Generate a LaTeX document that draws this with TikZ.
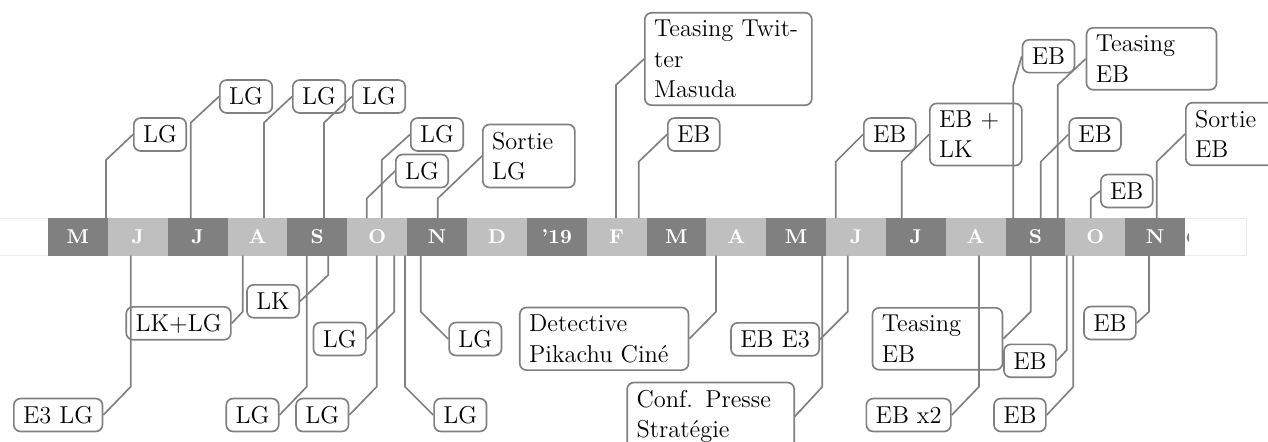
\documentclass[tikz,border=0pt]{standalone}

\definecolor{monthdark}{gray}{0.5}
\definecolor{monthlight}{gray}{0.75}
\definecolor{evgray}{gray}{0.5}
\newcommand\evfont{\fontsize{11}{13.6}\selectfont}

\tikzset{
  monthlbl/.style={text=white, font=\fontsize{9}{11}\selectfont\bfseries, inner sep=0pt},
  barframe/.style={draw=gray!15, line width=0.4pt},
  evbox/.style={draw=evgray, line width=0.75pt, rounded corners=3pt, inner xsep=4.2pt,
    inner ysep=3.6pt, text height=7.6pt, text depth=0pt, font=\evfont},
  evblock/.style={draw=evgray, line width=0.75pt, rounded corners=3pt, inner xsep=4.2pt,
    inner ysep=3.4pt, text width=#1, align=left, font=\evfont},
  conn/.style={draw=evgray, line width=0.75pt}
}

% event above / below the bar: name, x on bar, bend height (, side)
\newcommand\evup[3]{\coordinate (#1s) at (#2,218); \draw[conn] (#1s) -- (#2,#3) -- (#1.west);}
\newcommand\evdown[4]{\coordinate (#1s) at (#2,255.5); \draw[conn] (#1s) -- (#2,#3) -- (#1.#4);}

\begin{document}
\begin{tikzpicture}[x=0.45pt,y=-0.45pt]
\useasboundingbox (0,0) rectangle (1268,441);
\clip (0,0) rectangle (1268,441);

% the months
\draw[barframe] (-5,218) rectangle (1246,255.5);
\foreach \lbl [count=\i from 0] in {M,J,J,A,S,O,N,D,'19,F,M,A,M,J,J,A,S,O,N}{
  \ifodd\i \def\mcol{monthlight}\else \def\mcol{monthdark}\fi
  \fill[\mcol] (48+59.85*\i,218) rectangle ++(59.85,37.5);
  \node[monthlbl] (m\i) at (77.9+59.85*\i,236.75) {\lbl};
}
\begin{scope}
  \clip (1185.7,218) rectangle (1189,255.5);
  \fill[monthdark] (1192,237.5) circle (5.5);
\end{scope}

% above the bar
\node[evbox, anchor=west] (e1) at (133,134.5) {LG};
\node[evbox, anchor=west] (e2) at (219,96.5) {LG};
\node[evbox, anchor=west] (e3) at (292,96.5) {LG};
\node[evbox, anchor=west] (e4) at (352,96.5) {LG};
\node[evbox, anchor=west] (e5) at (410,134.5) {LG};
\node[evbox, anchor=west] (e6) at (395,171) {LG};
\node[evblock=33pt, anchor=west] (e7) at (482,156) {Sortie\\LG};
\node[evblock=66.75pt, anchor=west] (e8) at (644,59) {Teasing Twit-\\ter\\Masuda};
\node[evbox, anchor=west] (e9) at (667,134.5) {EB};
\node[evbox, anchor=west] (e10) at (863,134.5) {EB};
\node[evblock=33pt, anchor=west] (e11) at (929,134.5) {EB +\\LK};
\node[evbox, anchor=west] (e12) at (1021.7,56.2) {EB};
\node[evblock=50.1pt, anchor=west] (e13) at (1085.7,58.8) {Teasing\\EB};
\node[evbox, anchor=west] (e14) at (1068.3,134.5) {EB};
\node[evbox, anchor=west] (e15) at (1100,191) {EB};
\node[evblock=33pt, anchor=west] (e16) at (1185,134) {Sortie\\EB};

% below the bar
\node[evbox, anchor=east] (b1) at (103.3,415) {E3 LG};
\node[evbox, anchor=east] (b2) at (231.7,323.3) {LK+LG};
\node[evbox, anchor=east] (b3) at (300,301.3) {LK};
\node[evbox, anchor=east] (b4) at (366.7,339) {LG};
\node[evbox, anchor=east] (b5) at (279.5,415) {LG};
\node[evbox, anchor=east] (b6) at (349.3,415) {LG};
\node[evbox, anchor=west] (b7) at (433.3,415) {LG};
\node[evbox, anchor=west] (b8) at (448.3,339) {LG};
\node[evblock=67.5pt, anchor=east] (b9) at (689.3,338.8) {Detective\\Pikachu Ciné};
\node[evbox, anchor=east] (b10) at (820,339.3) {EB E3};
\node[evblock=66.75pt, anchor=north east] (b11) at (795,381.7) {Conf. Presse\\Stratégie};
\node[evblock=50.1pt, anchor=east] (b12) at (1003.3,338.8) {Teasing\\EB};
\node[evbox, anchor=east] (b13) at (951.7,415) {EB x2};
\node[evbox, anchor=east] (b14) at (1056.7,360.8) {EB};
\node[evbox, anchor=east] (b15) at (1046.7,415) {EB};
\node[evbox, anchor=east] (b16) at (1136.7,323) {EB};

% connectors
\evup{e1}{106}{160}
\evup{e2}{190.7}{122.7}
\evup{e3}{264}{122.7}
\evup{e4}{324}{122.7}
\evup{e5}{381.7}{160}
\evup{e6}{366.7}{198.5}
\evup{e7}{437.7}{198.5}
\evup{e8}{616}{85}
\evup{e9}{638.7}{161.7}
\evup{e10}{835.7}{161.7}
\evup{e11}{901.7}{161.7}
\evup{e12}{1013.3}{85}
\evup{e13}{1057.7}{85}
\evup{e14}{1040.7}{161.7}
\evup{e15}{1090.7}{198.5}
\evup{e16}{1156.7}{161.7}

\evdown{b1}{130.7}{386.7}{east}
\evdown{b2}{242.7}{311.7}{east}
\evdown{b3}{328.3}{275}{east}
\evdown{b4}{394.3}{311.7}{east}
\evdown{b5}{306.7}{386.7}{east}
\evdown{b6}{376.7}{386.7}{east}
\evdown{b7}{405}{386.7}{west}
\evdown{b8}{420.7}{311.7}{west}
\evdown{b9}{716}{311.7}{east}
\evdown{b10}{847.7}{311.7}{east}
\evdown{b11}{822.3}{386.7}{east}
\evdown{b12}{1030.7}{311.7}{east}
\evdown{b13}{979}{386.7}{east}
\evdown{b14}{1066.7}{350}{east}
\evdown{b15}{1073.3}{386.7}{east}
\evdown{b16}{1149}{311.7}{east}
\end{tikzpicture}
\end{document}
